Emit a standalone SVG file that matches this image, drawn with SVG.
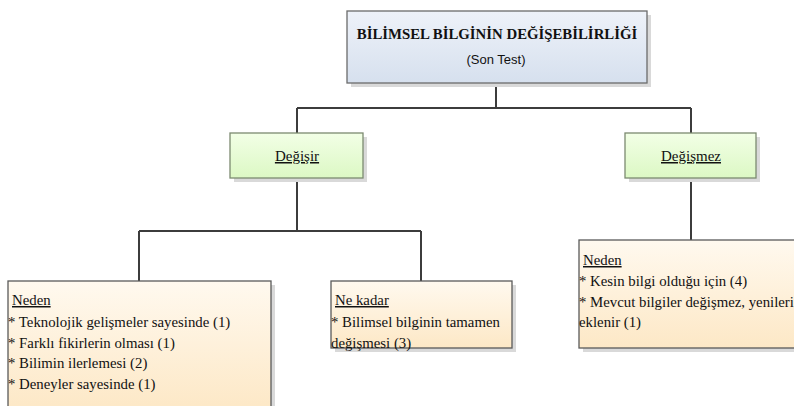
<svg xmlns="http://www.w3.org/2000/svg" width="794" height="406" viewBox="0 0 794 406">
<defs>
<linearGradient id="gBlue" x1="0" y1="0" x2="0" y2="1"><stop offset="0" stop-color="#eef2f9"/><stop offset="1" stop-color="#d6e0ee"/></linearGradient>
<linearGradient id="gGreen" x1="0" y1="0" x2="0" y2="1"><stop offset="0" stop-color="#f2ffe6"/><stop offset="1" stop-color="#dcf8c4"/></linearGradient>
<linearGradient id="gOrange" x1="0" y1="0" x2="0" y2="1"><stop offset="0" stop-color="#fff9ef"/><stop offset="1" stop-color="#fde8c6"/></linearGradient>
</defs>
<style>
.sh{fill:#d9d9d9}
.blue{fill:url(#gBlue);stroke:#6b6b6b;stroke-width:1.3}
.green{fill:url(#gGreen);stroke:#7c8a70;stroke-width:1.3}
.orange{fill:url(#gOrange);stroke:#5a5a5a;stroke-width:1.3}
.conn{fill:none;stroke:#3c3c3c;stroke-width:2}
text{fill:#111}
.serif{font-family:"Liberation Serif","Times New Roman",serif}
.body{font-size:14.8px}
.lbl{font-size:15px}
.u{text-decoration:underline}
</style>
<g id="connectors">
<path class="conn" d="M496 83 V108 M297 108 H691 M297 108 V133 M691 108 V133"/>
<path class="conn" d="M297 178 V231 M139 231 H421 M139 231 V281 M421 231 V281"/>
<path class="conn" d="M691 178 V240"/>
</g>
<g id="root">
<rect class="sh" x="351" y="15" width="300" height="72"/>
<rect class="blue" x="347" y="11" width="300" height="72"/>
<text class="serif" font-size="14.8" font-weight="bold" x="497" y="39" text-anchor="middle">BİLİMSEL BİLGİNİN DEĞİŞEBİLİRLİĞİ</text>
<text font-family="Liberation Sans, Arial, sans-serif" font-size="13" x="496" y="64" text-anchor="middle">(Son Test)</text>
</g>
<g id="degisir" class="serif lbl">
<rect class="sh" x="234" y="137" width="133" height="45"/>
<rect class="green" x="230" y="133" width="133" height="45"/>
<text class="u" x="297" y="161" text-anchor="middle">Değişir</text>
</g>
<g id="degismez" class="serif lbl">
<rect class="sh" x="629" y="137" width="131" height="45"/>
<rect class="green" x="625" y="133" width="131" height="45"/>
<text class="u" x="691" y="161" text-anchor="middle">Değişmez</text>
</g>
<g id="neden1" class="serif body">
<rect class="sh" x="12" y="285" width="263" height="130"/>
<rect class="orange" x="8" y="281" width="263" height="130"/>
<text class="u" x="12" y="305">Neden</text>
<text x="8" y="327">* Teknolojik gelişmeler sayesinde (1)</text>
<text x="8" y="348">* Farklı fikirlerin olması (1)</text>
<text x="8" y="368">* Bilimin ilerlemesi (2)</text>
<text x="8" y="389">* Deneyler sayesinde (1)</text>
</g>
<g id="nekadar" class="serif body">
<rect class="sh" x="335" y="285" width="181" height="67"/>
<rect class="orange" x="331" y="281" width="181" height="67"/>
<text class="u" x="335" y="305">Ne kadar</text>
<text x="331" y="327">* Bilimsel bilginin tamamen</text>
<text x="331" y="348">değişmesi (3)</text>
</g>
<g id="neden2" class="serif body">
<rect class="sh" x="583" y="244" width="230" height="108"/>
<rect class="orange" x="579" y="240" width="230" height="108"/>
<text class="u" x="583" y="265">Neden</text>
<text x="579" y="286">* Kesin bilgi olduğu için (4)</text>
<text x="579" y="307">* Mevcut bilgiler değişmez, yenileri</text>
<text x="579" y="327">eklenir (1)</text>
</g>
</svg>
